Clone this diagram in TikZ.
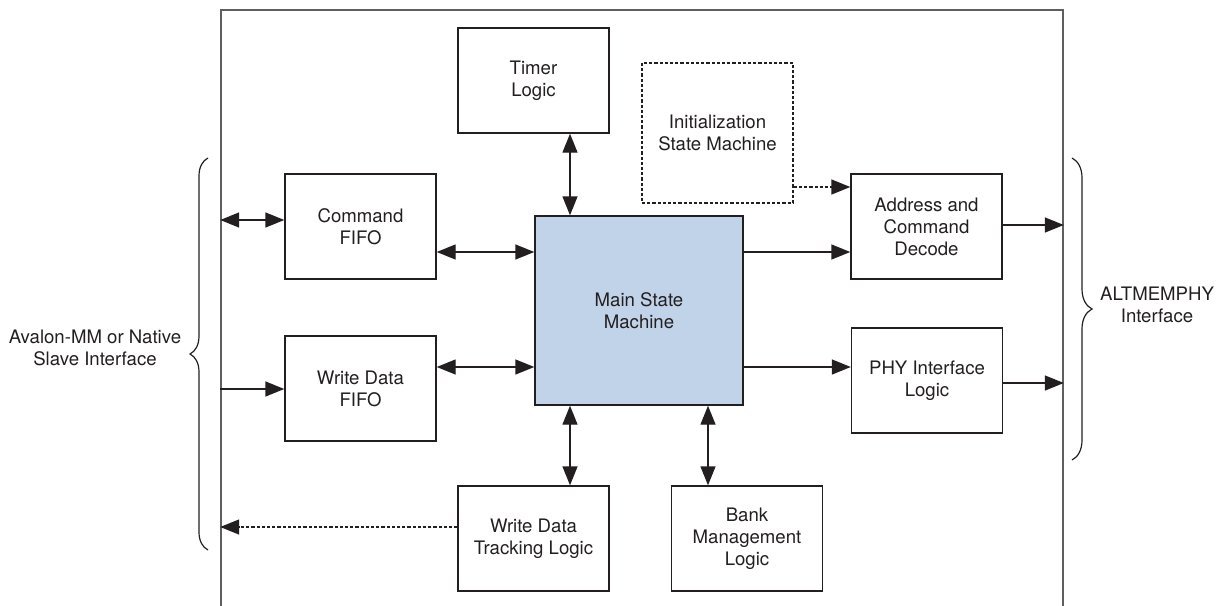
\documentclass[tikz,border=0pt]{standalone}
\usepackage{fontspec}
\setmainfont{TeX Gyre Heros}
\usetikzlibrary{arrows.meta,positioning,decorations.pathreplacing}
\definecolor{msmblue}{RGB}{193,211,232}
\definecolor{coregray}{RGB}{95,95,95}
\definecolor{ink}{RGB}{35,31,32}

\begin{document}
\begin{tikzpicture}[x=.5pt,y=-.5pt,>={Triangle[length=9.5pt,width=7.5pt]},
	font=\fontsize{9.3}{11}\selectfont,text=ink,
	blk/.style={draw=ink,line width=.7pt,minimum width=75.5pt,minimum height=52.5pt,align=center,inner sep=0pt},
	link/.style={draw=ink,line width=.7pt},
	dots/.style={link,dash pattern=on 1.6pt off 1pt},
	bracket/.style={draw=ink,line width=.6pt,decorate,decoration={brace,amplitude=#1}}]
	\useasboundingbox (0,0) rectangle (1225,605);
	% controller frame, its bottom edge lies below the page
	\node[draw=coregray,line width=.8pt,minimum width=421pt,minimum height=315pt,inner sep=0pt] (core) at (642,325) {};
	% blocks
	\node[blk] (timer) at (533.5,80.5) {Timer\\Logic};
	\node[blk,dots,minimum height=70pt] (init) at (717.5,133) {Initialization\\State Machine};
	\node[blk] (cmd) at (360.5,226.5) {Command\\FIFO};
	\node[blk] (wfifo) at (360.5,388.5) {Write Data\\FIFO};
	\node[blk,fill=msmblue,minimum width=104pt,minimum height=94.5pt] (main) at (639,310.5) {Main State\\Machine};
	\node[blk] (addr) at (926.5,226.5) {Address and\\Command\\Decode};
	\node[blk] (phy) at (927,380.5) {PHY Interface\\Logic};
	\node[blk] (track) at (533.5,538.5) {Write Data\\Tracking Logic};
	\node[blk] (bank) at (747,538.5) {Bank\\Management\\Logic};
	% rows and columns of the connectors
	\coordinate (colA) at (570,0);
	\coordinate (colB) at (708,0);
	\foreach \n/\y in {init/187,cmdin/220,addrout/225,upper/252,lower/367,phyout/383,wrin/389,track/527}
		\coordinate (row-\n) at (0,\y);
	% connectors
	\draw[link,<->] (timer.south -| colA) -- (main.north -| colA);
	\draw[link,<->] (main.south -| colA) -- (track.north -| colA);
	\draw[link,<->] (main.south -| colB) -- (bank.north -| colB);
	\draw[link,<->] (core.west |- row-cmdin) -- (cmd.west |- row-cmdin);
	\draw[link,->] (core.west |- row-wrin) -- (wfifo.west |- row-wrin);
	\draw[link,<->] (cmd.east |- row-upper) -- (main.west |- row-upper);
	\draw[link,<->] (wfifo.east |- row-lower) -- (main.west |- row-lower);
	\draw[link,->] (main.east |- row-upper) -- (addr.west |- row-upper);
	\draw[link,->] (main.east |- row-lower) -- (phy.west |- row-lower);
	\draw[link,->] (addr.east |- row-addrout) -- (core.east |- row-addrout);
	\draw[link,->] (phy.east |- row-phyout) -- (core.east |- row-phyout);
	\draw[dots,->] (init.east |- row-init) -- (addr.west |- row-init);
	\draw[dots,->] (track.west |- row-track) -- (core.west |- row-track);
	% interfaces
	\draw[bracket=9pt] (208,550) -- (208,158);
	\draw[bracket=10pt] (1072,158) -- (1072,460);
	\node[align=center] (avalon) at (95,348) {Avalon-MM or Native\\Slave Interface};
	\node[align=center] (altmemphy) at (1157,305) {ALTMEMPHY\\Interface};
\end{tikzpicture}
\end{document}
